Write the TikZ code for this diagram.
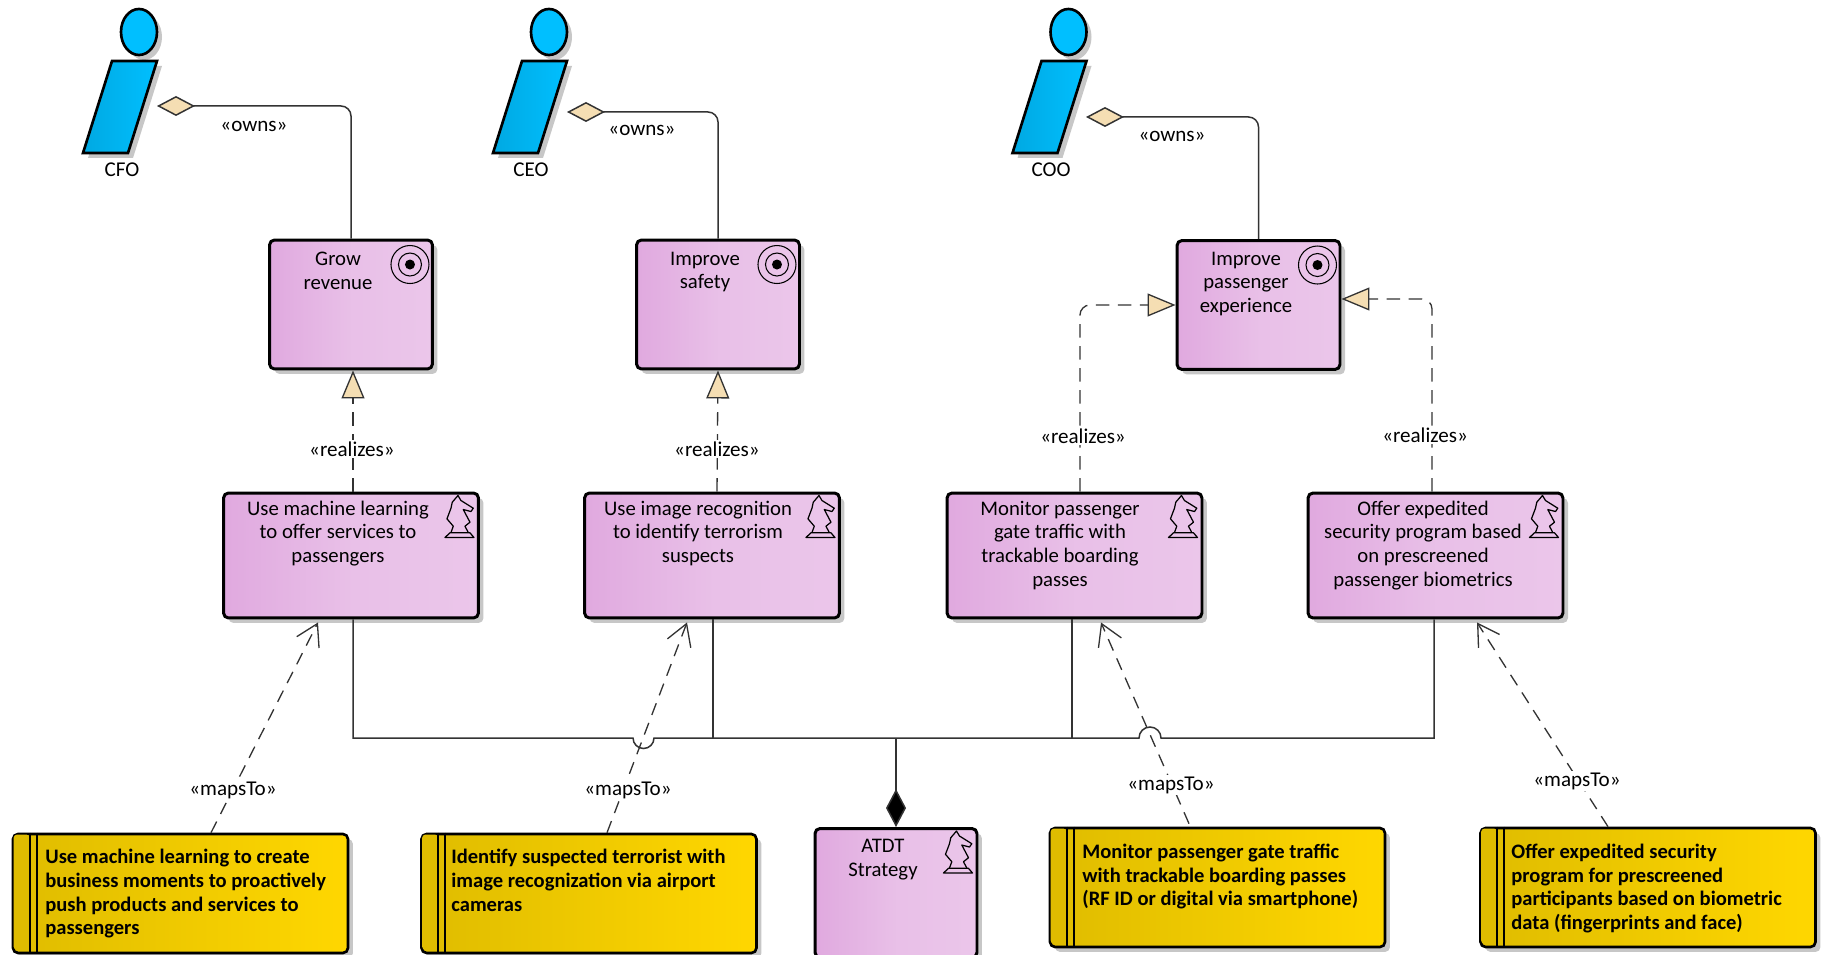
\documentclass[tikz,border=0pt]{standalone}
\usepackage{fontspec}
\setmainfont{Carlito}
\usetikzlibrary{arrows.meta,shadows}
\definecolor{purpleleft}{HTML}{E0A9DF}
\definecolor{purpleright}{HTML}{EBC6EA}
\definecolor{goldleft}{HTML}{DFBC00}
\definecolor{goldright}{HTML}{FFD700}
\definecolor{actorleft}{HTML}{00A9E2}
\definecolor{actorright}{HTML}{00BFFF}
\definecolor{tipfill}{HTML}{F5DEB3}
\definecolor{lineink}{HTML}{333333}

\begin{document}
\begin{tikzpicture}[x=0.02cm, y=-0.02cm,
    softshadow/.style ={drop shadow={shadow xshift=0.1cm, shadow yshift=-0.1cm, opacity=0.22, fill=black}},
    purplebox/.style ={draw, line width=1.7pt, rounded corners=0.1cm, inner sep=0pt, softshadow,
       left color=purpleleft, right color=purpleright, middle color=purpleleft!22!purpleright},
    goalbox/.style ={purplebox, minimum width=3.26cm, minimum height=2.58cm},
    coursebox/.style ={purplebox, minimum width=5.1cm, minimum height=2.5cm},
    mapbox/.style ={draw, line width=1.5pt, rounded corners=0.1cm, inner sep=0pt, softshadow,
       left color=goldleft, right color=goldright, minimum width=6.7cm, minimum height=2.38cm},
    boxtext/.style ={anchor=north, align=center, inner sep=0pt, font=\fontsize{11.8}{13.5}\selectfont},
    maptext/.style ={anchor=north west, align=left, inner sep=0pt, font=\fontsize{11.7}{13.5}\selectfont\bfseries},
    connlabel/.style ={fill=white, inner sep=1pt, font=\fontsize{12}{13.5}\selectfont},
    ownsline/.style ={draw=lineink, line width=0.85pt, rounded corners=0.2cm,
       {Diamond[fill=tipfill, length=7.6mm, width=4mm]}-},
    realizeline/.style ={draw=lineink, line width=0.75pt, rounded corners=0.2cm, dash pattern=on 0.27cm off 0.17cm,
       -{Triangle[fill=tipfill, length=5.6mm, width=4.6mm]}},
    mapline/.style ={draw=lineink, line width=0.75pt, dash pattern=on 0.25cm off 0.17cm,
       -{Straight Barb[length=4.2mm, width=5mm]}},
    busline/.style ={draw=lineink, line width=0.85pt},
    actorman/.pic ={
       \draw[line width=1.5pt, fill=actorright, softshadow] (0,0) ellipse [x radius=18, y radius=23];
       \draw[line width=1.5pt, left color=actorleft, right color=actorright, softshadow]
          (-27,29) -- (18,29) -- (-11,121) -- (-56,121) -- cycle;},
    targetmark/.pic ={
       \draw[line width=0.6pt] (-24,26) circle [radius=19];
       \draw[line width=0.6pt] (-24,26) circle [radius=11.5];
       \fill (-24,26) circle [radius=5];},
    knightmark/.pic ={
       \draw[line width=0.7pt, line join=round] (-35,46) -- (-6,46) -- (-10,41.3) -- (-30,41.3) -- cycle;
       \draw[line width=0.7pt, line join=round] (-29,41) -- (-26.7,34.7) -- (-33,27.3) -- (-29,16.7) -- (-27.7,10.7)
          -- (-22,4) -- (-19,9) -- (-6.7,16.7) -- (-9,20) -- (-16.7,18) -- (-10,30.7) -- (-15,34.7) -- (-11.7,41);},
    stripmark/.pic ={
       \fill[goldleft, rounded corners=0.06cm] (2,2) rectangle (18,117);
       \draw[line width=1.3pt] (18,0) -- (18,119);
       \draw[line width=1.3pt] (25,0) -- (25,119);}]
   \useasboundingbox (0,0) rectangle (1824,955);

   % top row
   \node[goalbox] (growbox) at (351,304.5) {};
   \node[goalbox] (safetybox) at (718,304.5) {};
   \node[goalbox] (passengerbox) at (1258.5,305) {};
   \node[boxtext] (growtext) at (338,251.5) {Grow\\revenue};
   \node[boxtext] (safetytext) at (705,251.5) {Improve\\safety};
   \node[boxtext] (passengertext) at (1246,251.5) {Improve\\passenger\\experience};

   % middle row
   \node[coursebox] (usemlbox) at (351,555.5) {};
   \node[coursebox] (useimgbox) at (712,555.5) {};
   \node[coursebox] (monitorbox) at (1074.5,555.5) {};
   \node[coursebox] (offerbox) at (1435.5,555.5) {};
   \node[boxtext] (usemltext) at (338,500.5) {Use machine learning\\to offer services to\\passengers};
   \node[boxtext] (useimgtext) at (698,500.5) {Use image recognition\\to identify terrorism\\suspects};
   \node[boxtext] (monitortext) at (1060,500.5) {Monitor passenger\\gate traffic with\\trackable boarding\\passes};
   \node[boxtext] (offertext) at (1423,500.5) {Offer expedited\\security program based\\on prescreened\\passenger biometrics};

   % bottom row
   \node[mapbox] (mapa) at (180.5,893.5) {};
   \node[mapbox] (mapb) at (589,893.5) {};
   \node[purplebox, minimum width=3.24cm, minimum height=2.58cm] (atdtbox) at (896,893) {};
   \node[mapbox] (mapc) at (1217.5,887.5) {};
   \node[mapbox] (mapd) at (1648,887.5) {};
   \node[boxtext] (atdttext) at (883,839) {ATDT\\Strategy};
   \node[maptext] (mapatext) at (45,849) {Use machine learning to create\\business moments to proactively\\push products and services to\\passengers};
   \node[maptext] (mapbtext) at (451,849) {Identify suspected terrorist with\\image recognization via airport\\cameras};
   \node[maptext] (mapctext) at (1082,843.5) {Monitor passenger gate traffic\\with trackable boarding passes\\(RF ID or digital via smartphone)};
   \node[maptext] (mapdtext) at (1511,843.5) {Offer expedited security\\program for prescreened\\participants based on biometric\\data (fingerprints and face)};

   \pic at (growbox.north east) {targetmark};
   \pic at (safetybox.north east) {targetmark};
   \pic at (passengerbox.north east) {targetmark};
   \pic at (usemlbox.north east) {knightmark};
   \pic at (useimgbox.north east) {knightmark};
   \pic at (monitorbox.north east) {knightmark};
   \pic at (offerbox.north east) {knightmark};
   \pic at (atdtbox.north east) {knightmark};
   \pic at (mapa.north west) {stripmark};
   \pic at (mapb.north west) {stripmark};
   \pic at (mapc.north west) {stripmark};
   \pic at (mapd.north west) {stripmark};

   % actors
   \pic at (139,32) {actorman};
   \pic at (549,32) {actorman};
   \pic at (1068.5,32) {actorman};
   \node[connlabel] (cfolabel) at (122,170) {CFO};
   \node[connlabel] (ceolabel) at (531,170) {CEO};
   \node[connlabel] (coolabel) at (1051,170) {COO};
   \coordinate (cfohand) at (157,106);
   \coordinate (ceohand) at (567,112);
   \coordinate (coohand) at (1086,117);

   \draw[ownsline] (cfohand) -| (growbox.north);
   \draw[ownsline] (ceohand) -| (safetybox.north);
   \draw[ownsline] (coohand) -| (passengerbox.north);

   \draw[realizeline] ([xshift=0.04cm]usemlbox.north) -- ([xshift=0.04cm]growbox.south);
   \draw[realizeline] ([xshift=0.1cm]useimgbox.north) -- (safetybox.south);
   \draw[realizeline] ([xshift=0.11cm]monitorbox.north) |- (passengerbox.west);
   \draw[realizeline] ([xshift=-0.07cm]offerbox.north) |- ([yshift=0.12cm]passengerbox.east);

   % bus under the middle row
   \coordinate (busa) at (353,738);
   \coordinate (busb) at (713,738);
   \coordinate (busc) at (1072,738);
   \coordinate (busd) at (1434,738);
   \coordinate (bumpa) at (633,738);
   \coordinate (bumpb) at (1139,738);
   \draw[busline] (usemlbox.south -| busa) -- (busa) -- (bumpa) arc [start angle=180, end angle=0, radius=10.5]
      -- (bumpb) arc [start angle=180, end angle=360, radius=11] -- (busd) -- (offerbox.south -| busd);
   \draw[busline] (useimgbox.south -| busb) -- (busb);
   \draw[busline] (monitorbox.south -| busc) -- (busc);
   \draw[busline, {Diamond[fill=black, length=7.6mm, width=4mm]}-] (atdtbox.north) -- (atdtbox.north |- busa);

   \draw[mapline] ([xshift=0.61cm]mapa.north) -- ([xshift=-0.66cm,yshift=-0.06cm]usemlbox.south);
   \draw[mapline] ([xshift=0.36cm]mapb.north) -- ([xshift=-0.5cm,yshift=-0.06cm]useimgbox.south);
   \draw[mapline] ([xshift=-0.57cm,yshift=0.06cm]mapc.north) -- ([xshift=0.53cm,yshift=-0.06cm]monitorbox.south);
   \draw[mapline] ([xshift=-0.8cm]mapd.north) -- ([xshift=0.83cm,yshift=-0.06cm]offerbox.south);

   \node[connlabel] (ownsa) at (254,126) {«owns»};
   \node[connlabel] (ownsb) at (642,130) {«owns»};
   \node[connlabel] (ownsc) at (1172,136) {«owns»};
   \node[connlabel] (realizesa) at (352,449) {«realizes»};
   \node[connlabel] (realizesb) at (717,449) {«realizes»};
   \node[connlabel] (realizesc) at (1083,436) {«realizes»};
   \node[connlabel] (realizesd) at (1425,435) {«realizes»};
   \node[connlabel] (mapstoa) at (233,790) {«mapsTo»};
   \node[connlabel] (mapstob) at (628,790) {«mapsTo»};
   \node[connlabel] (mapstoc) at (1171,785) {«mapsTo»};
   \node[connlabel] (mapstod) at (1577,781) {«mapsTo»};
 \end{tikzpicture}
\end{document}
